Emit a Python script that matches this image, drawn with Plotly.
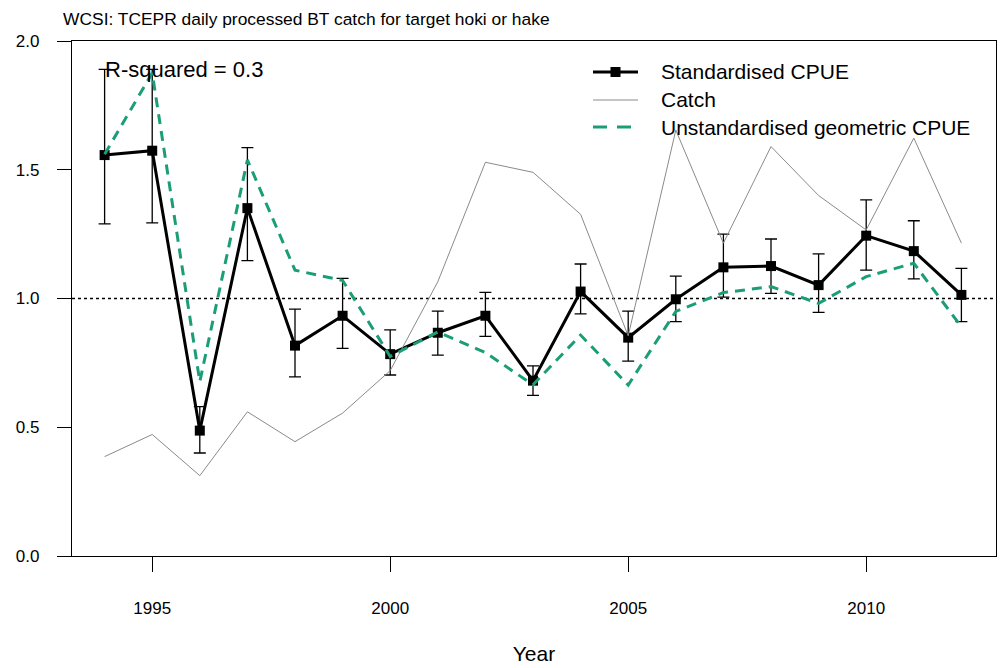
import plotly.graph_objects as go

years = list(range(1994, 2013))
std_cpue = [1.557, 1.574, 0.487, 1.351, 0.817, 0.933, 0.784, 0.867, 0.933, 0.681,
            1.027, 0.848, 0.997, 1.121, 1.126, 1.052, 1.244, 1.184, 1.014]
std_upper = [1.89, 1.89, 0.58, 1.586, 0.959, 1.078, 0.878, 0.951, 1.024, 0.738,
             1.134, 0.951, 1.087, 1.25, 1.231, 1.173, 1.383, 1.302, 1.117]
std_lower = [1.29, 1.294, 0.40, 1.147, 0.696, 0.806, 0.703, 0.78, 0.853, 0.624,
             0.94, 0.757, 0.91, 1.005, 1.02, 0.946, 1.11, 1.076, 0.91]
catch = [0.386, 0.472, 0.312, 0.56, 0.444, 0.555, 0.72, 1.065, 1.529, 1.49,
         1.327, 0.855, 1.654, 1.215, 1.59, 1.40, 1.266, 1.623, 1.215]
unstd_cpue = [1.56, 1.876, 0.677, 1.538, 1.11, 1.07, 0.775, 0.87, 0.79, 0.665,
              0.858, 0.664, 0.95, 1.023, 1.046, 0.981, 1.085, 1.137, 0.89]

series_names = ["Standardised CPUE", "Catch", "Unstandardised geometric CPUE"]
x_ticks = [1995, 2000, 2005, 2010]
y_ticks = [0.0, 0.5, 1.0, 1.5, 2.0]
y_ticklabels = ["0.0", "0.5", "1.0", "1.5", "2.0"]

err_plus = [u - v for u, v in zip(std_upper, std_cpue)]
err_minus = [v - l for l, v in zip(std_lower, std_cpue)]

FONT = "Liberation Sans, Arial, sans-serif"
GREEN = "#1b9e77"
GREY = "#8a8a8a"

W, H = 1001, 668
ML, MR, MT, MB = 72, 5, 41, 112
PW, PH = W - ML - MR, H - MT - MB


def px_x(px):
    return (px - ML) / PW


def px_y(py):
    return (H - MB - py) / PH


fig = go.Figure()
fig.add_trace(go.Scatter(
    x=years, y=std_cpue, mode="lines+markers", name=series_names[0],
    line=dict(color="black", width=3),
    marker=dict(symbol="square", size=10, color="black"),
    error_y=dict(type="data", symmetric=False, array=err_plus, arrayminus=err_minus,
                 color="black", thickness=1.3, width=6),
))
fig.add_trace(go.Scatter(
    x=years, y=catch, mode="lines", name=series_names[1],
    line=dict(color=GREY, width=1),
))
fig.add_trace(go.Scatter(
    x=years, y=unstd_cpue, mode="lines", name=series_names[2],
    line=dict(color=GREEN, width=3, dash="10px,7px"),
))

fig.add_shape(type="line", xref="paper", yref="y", x0=0, x1=1, y0=1.0, y1=1.0,
              line=dict(color="black", width=1.5, dash="dot"), layer="below")

# legend (drawn R-style, no box)
leg_rows = [72, 100, 127]
leg_x0, leg_x1, leg_tx = 593, 638, 659
leg_styles = [dict(color="black", width=3),
              dict(color=GREY, width=1),
              dict(color=GREEN, width=3, dash="14px,10px")]
for name, row, style in zip(series_names, leg_rows, leg_styles):
    fig.add_shape(type="line", xref="paper", yref="paper",
                  x0=px_x(leg_x0), x1=px_x(leg_x1), y0=px_y(row), y1=px_y(row),
                  line=style)
    fig.add_annotation(text=name, xref="paper", yref="paper",
                       x=px_x(leg_tx), y=px_y(row), xanchor="left", yanchor="middle",
                       showarrow=False, font=dict(family=FONT, size=21, color="black"))
cx = (leg_x0 + leg_x1) / 2
fig.add_shape(type="rect", xref="paper", yref="paper",
              x0=px_x(cx - 5), x1=px_x(cx + 5),
              y0=px_y(leg_rows[0] + 5), y1=px_y(leg_rows[0] - 5),
              fillcolor="black", line=dict(width=0))

fig.add_annotation(text="R-squared = 0.3", xref="paper", yref="paper",
                   x=0.034, y=0.9456, xanchor="left", yanchor="middle",
                   showarrow=False, font=dict(family=FONT, size=22, color="black"))

fig.update_layout(
    width=W, height=H,
    margin=dict(l=ML, r=MR, t=MT, b=MB),
    paper_bgcolor="white", plot_bgcolor="white",
    font=dict(family=FONT, size=17, color="black"),
    title=dict(text="WCSI: TCEPR daily processed BT catch for target hoki or hake",
               x=0.063, xanchor="left", y=0.972, yanchor="middle",
               font=dict(family=FONT, size=17.4, color="black")),
    showlegend=False,
    xaxis=dict(range=[1993.315, 2012.727], tickvals=x_ticks,
               ticks="outside", ticklen=15, tickwidth=1, tickcolor="black",
               showline=True, linecolor="black", linewidth=1.3, mirror=True,
               showgrid=False, zeroline=False, ticklabelstandoff=21,
               title=dict(text="Year", standoff=29, font=dict(size=21))),
    yaxis=dict(range=[0, 2.0], tickvals=y_ticks, ticktext=y_ticklabels,
               ticks="outside", ticklen=14, tickwidth=1, tickcolor="black",
               showline=True, linecolor="black", linewidth=1.3, mirror=True,
               showgrid=False, zeroline=False, ticklabelstandoff=14),
)

fig.write_html("out.html", config={"displayModeBar": False},
               post_script="document.body.style.margin='0';document.body.style.overflow='hidden';")
